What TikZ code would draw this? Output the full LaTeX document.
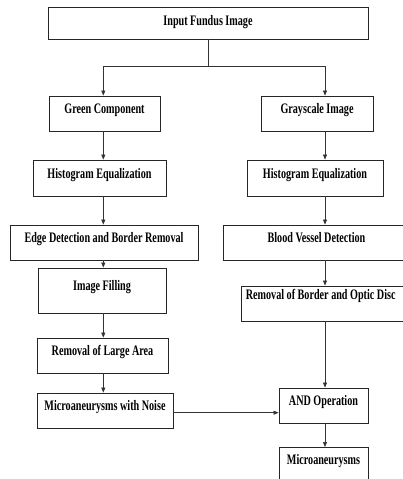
\documentclass[tikz,border=0pt]{standalone}
\usepackage{fontspec}
\newfontfamily\condfont[FakeStretch=0.70]{Liberation Serif}
\usetikzlibrary{arrows.meta}
\begin{document}
\begin{tikzpicture}[x=1pt,y=-1pt,
  stepbox/.style={draw=black!85,line width=0.9pt,inner sep=0pt,minimum height=35pt,
    text height=9pt,text depth=9pt,font=\condfont\bfseries\fontsize{14.5}{16}\selectfont},
  conn/.style={draw=black!80,line width=0.7pt},
  arr/.style={conn,-{Triangle[length=5pt,width=4pt]}}]
\useasboundingbox (0,0) rectangle (402,479);
\fill[white] (0,0) rectangle (402,479);
% nodes
\node[stepbox,minimum width=320pt,minimum height=32pt,text depth=4.4pt] (in) at (208,23) {Input Fundus Image};
\node[stepbox,minimum width=111pt] (gc) at (104.5,113.5) {Green Component};
\node[stepbox,minimum width=112pt] (gs) at (317,113.5) {Grayscale Image};
\node[stepbox,minimum width=133pt,minimum height=36pt] (hl) at (99.5,178) {Histogram Equalization};
\node[stepbox,minimum width=136pt,minimum height=36pt] (hr) at (315,178) {Histogram Equalization};
\node[stepbox,minimum width=188pt] (ed) at (104,242.5) {Edge Detection and Border Removal};
\node[stepbox,minimum width=187pt] (bv) at (316.5,242.5) {Blood Vessel Detection};
\node[stepbox,minimum width=128pt,minimum height=45pt] (fill) at (102,290.5) {Image Filling};
\node[stepbox,minimum width=169pt,text depth=18pt] (rb) at (325.5,303.5) {Removal of Border and Optic Disc\hspace*{9.6pt}};
\node[stepbox,minimum width=131pt] (rl) at (102.5,355.5) {Removal of Large Area};
\node[stepbox,minimum width=136pt] (mn) at (105,410.5) {Microaneurysms with Noise};
\node[stepbox,minimum width=89pt] (and) at (323.5,405.5) {AND Operation};
\node[stepbox,minimum width=89pt,minimum height=0pt,inner ysep=8pt,text depth=30pt,anchor=north] (mic) at (323.5,447) {Microaneurysms};
% helper coordinates
\coordinate (j) at (208.7,66.7);
\coordinate (lc) at (103.3,0);
\coordinate (rc) at (325,0);
\coordinate (hy) at (0,412.7);
% connectors
\draw[conn] (in.south -| j) -- (j);
\draw[arr] (j) -| (lc |- gc.north);
\draw[arr] (j) -| (rc |- gs.north);
\draw[arr] (lc |- gc.south) -- (lc |- hl.north);
\draw[arr] (lc |- hl.south) -- (lc |- ed.north);
\draw[arr] (lc |- ed.south) -- (lc |- fill.north);
\draw[arr] (lc |- fill.south) -- (lc |- rl.north);
\draw[arr] (lc |- rl.south) -- (lc |- mn.north);
\draw[arr] (rc |- gs.south) -- (rc |- hr.north);
\draw[arr] (rc |- hr.south) -- (rc |- bv.north);
\draw[arr] (rc |- bv.south) -- (rc |- rb.north);
\draw[arr] (rc |- rb.south) -- (rc |- and.north);
\draw[arr] (mn.east |- hy) -- (and.west |- hy);
\draw[arr] (rc |- and.south) -- (rc |- mic.north);
\end{tikzpicture}
\end{document}
